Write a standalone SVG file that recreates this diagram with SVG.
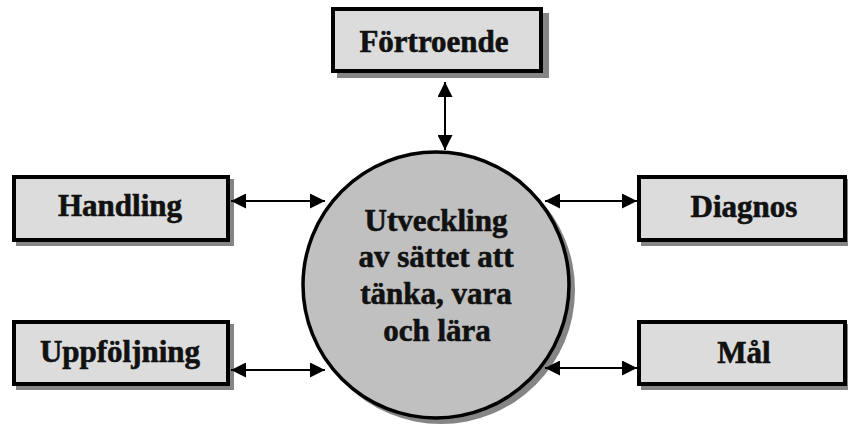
<svg xmlns="http://www.w3.org/2000/svg" width="848" height="427" viewBox="0 0 848 427">
<style>
.shadow{fill:#858585;stroke:none}
.box{fill:#dcdcdc;stroke:#000;stroke-width:4}
.circ{fill:#c0c0c0;stroke:#000;stroke-width:3.5}
.lbl{font-family:"Liberation Serif",serif;font-weight:bold;font-size:31px;fill:#111;stroke:#111;stroke-width:0.6;text-anchor:middle}
.conn{stroke:#000;stroke-width:2;fill:none;marker-start:url(#ah);marker-end:url(#ah)}
</style>
<defs>
<marker id="ah" viewBox="0 0 15 15" refX="15" refY="7.5" markerWidth="15" markerHeight="15" markerUnits="userSpaceOnUse" orient="auto-start-reverse">
<path d="M0,0 L15,7.5 L0,15 Z" fill="#000"/>
</marker>
</defs>
<rect width="848" height="427" fill="#fff"/>
<g id="center">
<circle class="shadow" cx="441" cy="290" r="134"/>
<circle class="circ" cx="436" cy="285" r="133"/>
<text class="lbl" x="436" y="231">Utveckling</text>
<text class="lbl" x="436" y="267">av sättet att</text>
<text class="lbl" x="436" y="304">tänka, vara</text>
<text class="lbl" x="437" y="341">och lära</text>
</g>
<g id="fortroende">
<rect class="shadow" x="337" y="13" width="212" height="65"/>
<rect class="box" x="333" y="9" width="208" height="62"/>
<text class="lbl" x="434" y="52">Förtroende</text>
</g>
<g id="handling">
<rect class="shadow" x="16" y="179" width="218" height="67"/>
<rect class="box" x="14" y="177" width="214" height="63"/>
<text class="lbl" x="120" y="216">Handling</text>
</g>
<g id="uppfoljning">
<rect class="shadow" x="16" y="324" width="218" height="66"/>
<rect class="box" x="14" y="322" width="214" height="62"/>
<text class="lbl" x="120" y="362">Uppföljning</text>
</g>
<g id="diagnos">
<rect class="shadow" x="641" y="179" width="210" height="67"/>
<rect class="box" x="639" y="177" width="206" height="63"/>
<text class="lbl" x="744" y="217">Diagnos</text>
</g>
<g id="mal">
<rect class="shadow" x="641" y="324" width="210" height="66"/>
<rect class="box" x="639" y="322" width="206" height="62"/>
<text class="lbl" x="744" y="363">Mål</text>
</g>
<g id="connectors">
<line class="conn" x1="445" y1="82" x2="445" y2="150"/>
<line class="conn" x1="231" y1="201" x2="325" y2="201"/>
<line class="conn" x1="231" y1="370" x2="325" y2="370"/>
<line class="conn" x1="545" y1="201" x2="637" y2="201"/>
<line class="conn" x1="545" y1="368" x2="637" y2="368"/>
</g>
</svg>
